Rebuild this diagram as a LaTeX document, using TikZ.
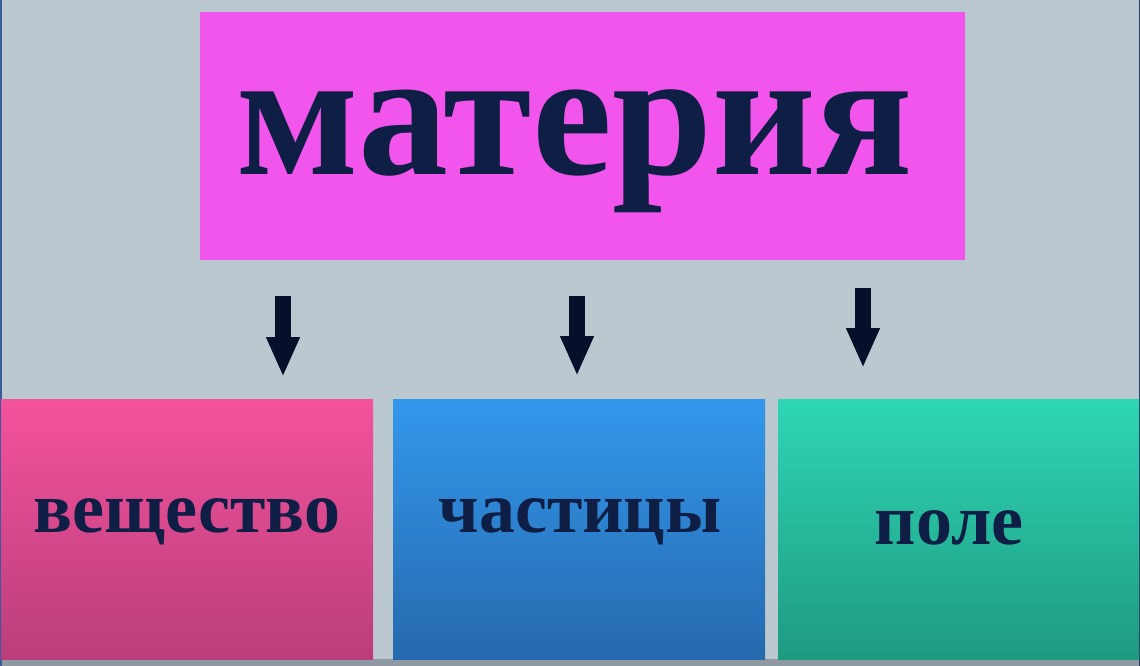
\documentclass[tikz,border=0pt]{standalone}
\usepackage{fontspec}
\setmainfont{Liberation Serif}
\usetikzlibrary{arrows.meta}
\definecolor{bg}{HTML}{BCC8CF}
\definecolor{mag}{HTML}{F155EC}
\definecolor{ink}{HTML}{0F1E45}
\definecolor{arr}{HTML}{06102A}
\definecolor{pinkT}{HTML}{F4529D}
\definecolor{pinkB}{HTML}{BA3E7B}
\definecolor{blueT}{HTML}{3398EC}
\definecolor{blueB}{HTML}{2669AE}
\definecolor{greenT}{HTML}{2ED6B6}
\definecolor{greenB}{HTML}{1F9A80}
\definecolor{strip}{HTML}{8F99A1}
\definecolor{edgeL}{HTML}{3B5A9A}
\tikzset{
  boxshape/.style={draw=none, inner sep=0pt, outer sep=0pt, rectangle},
  bigtext/.style={font=\fontsize{180}{180}\selectfont\bfseries, text=ink, inner sep=0pt, anchor=base},
  smalltext/.style={font=\fontsize{72}{72}\selectfont\bfseries, text=ink, inner sep=0pt, anchor=base},
  downarrow/.style={draw=arr, line width=16pt, -{Triangle[width=31pt,length=40pt]}}
}
\begin{document}
\begin{tikzpicture}[x=1pt,y=-1pt]
\useasboundingbox (0,0) rectangle (1140,666);
\fill[bg] (0,0) rectangle (1140,666);
\fill[strip] (0,659) rectangle (1140,666);
\fill[edgeL] (0,0) rectangle (1.5,666);
\fill[edgeL!70!black] (1138.5,0) rectangle (1140,666);
% top box
\node[boxshape, fill=mag, minimum width=765pt, minimum height=248pt] (mat) at (582.5,136) {};
\node[bigtext] (matT) at (575,175) {материя};
% bottom boxes
\node[boxshape, minimum width=372pt, minimum height=260pt, top color=pinkT, bottom color=pinkB] (ves) at (187,529) {};
\node[boxshape, minimum width=372pt, minimum height=260pt, top color=blueT, bottom color=blueB] (cha) at (579,529) {};
\node[boxshape, minimum width=361pt, minimum height=260pt, top color=greenT, bottom color=greenB] (pol) at (958.5,529) {};
\node[smalltext] (vesT) at (187,532) {вещество};
\node[smalltext] (chaT) at (580,532) {частицы};
\node[smalltext] (polT) at (949,544) {поле};
% arrows
\coordinate (a1s) at (283,296); \coordinate (a1e) at (283,377);
\coordinate (a2s) at (577,296); \coordinate (a2e) at (577,376);
\coordinate (a3s) at (863,288); \coordinate (a3e) at (863,368);
\draw[downarrow] (a1s) -- (a1e);
\draw[downarrow] (a2s) -- (a2e);
\draw[downarrow] (a3s) -- (a3e);
\end{tikzpicture}
\end{document}
